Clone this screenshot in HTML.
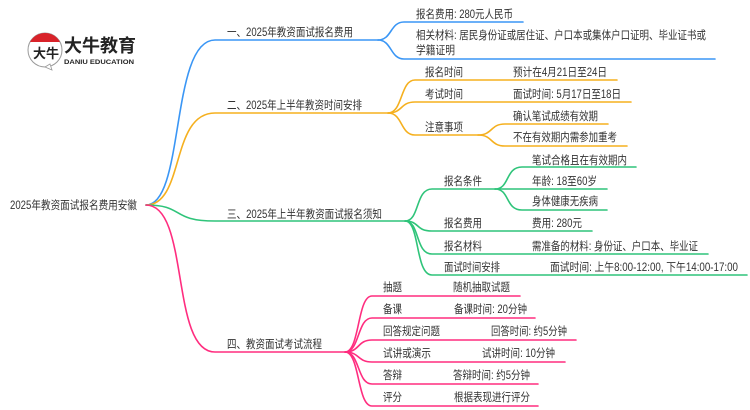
<!DOCTYPE html>
<html><head><meta charset="utf-8"><style>
html,body{margin:0;padding:0;background:#fff;}
svg{display:block;}
text{font-family:"Liberation Sans","Noto Sans CJK SC",sans-serif;font-size:11.5px;fill:#333;}
</style></head><body>
<svg width="750" height="410" viewBox="0 0 750 410" xmlns="http://www.w3.org/2000/svg">
<g fill="none" stroke-width="1.6" stroke-linecap="round">
<g stroke="#3a96f5">
<path d="M146 205 C185 205 170 40 215 40 L378 40"/>
<path d="M378 40 C392 40 390 22 404 22 L523 22"/>
<path d="M378 40 C392 40 390 59 404 59 L715 59"/>
</g>
<g stroke="#f5b01f">
<path d="M146 205 C185 205 170 113 215 113 L388 113"/>
<path d="M388 113 C403 113 400 80 415 80 L617 80"/>
<path d="M388 113 C403 113 400 102 415 102 L631 102"/>
<path d="M388 113 C403 113 400 135 415 135 L478 135"/>
<path d="M478 135 C493 135 490 124 505 124 L608 124"/>
<path d="M478 135 C493 135 490 146 505 146 L627 146"/>
</g>
<g stroke="#2fc47a">
<path d="M146 205 C185 205 170 221 215 221 L405 221"/>
<path d="M405 221 C420 221 415 189 432 189 L495 189"/>
<path d="M495 189 C510 189 505 167 522 167 L636 167"/>
<path d="M495 189 L607 189"/>
<path d="M495 189 C510 189 505 210 522 210 L607 210"/>
<path d="M405 221 C420 221 415 231 432 231 L592 231"/>
<path d="M405 221 C420 221 415 254 432 254 L708 254"/>
<path d="M405 221 C420 221 415 275 432 275 L747 275"/>
</g>
<g stroke="#ff2d7f">
<path d="M146 205 C190 205 170 352 215 352 L345 352"/>
<path d="M345 352 C360 352 357 296 372 296 L520 296"/>
<path d="M345 352 C360 352 357 318 372 318 L535 318"/>
<path d="M345 352 C360 352 357 340 372 340 L576 340"/>
<path d="M345 352 C360 352 357 362 372 362 L565 362"/>
<path d="M345 352 C360 352 357 384 372 384 L538 384"/>
<path d="M345 352 C360 352 357 406 372 406 L538 406"/>
</g>
</g>
<circle cx="45" cy="50" r="17" fill="#fff" stroke="#999" stroke-width="1"/>
<path d="M30 42 A17 17 0 0 1 60 42 Z" fill="#d9232a"/>
<path d="M45 67 L52 70 L50 64 Z" fill="#fff" stroke="#999" stroke-width="0.8"/>
<text x="33" y="58" style="font-size:13px;fill:#222;font-weight:bold">大牛</text>
<text x="64" y="52" style="font-size:18px;font-weight:bold;fill:#222" textLength="72" lengthAdjust="spacingAndGlyphs">大牛教育</text>
<text x="64" y="64" style="font-size:6.5px;fill:#222;font-weight:bold" textLength="70" lengthAdjust="spacingAndGlyphs">DANIU EDUCATION</text>
<g style="font-size:11.5px">
<text x="10" y="209" textLength="127" lengthAdjust="spacingAndGlyphs">2025年教资面试报名费用安徽</text>
<text x="227" y="36" textLength="126" lengthAdjust="spacingAndGlyphs">一、2025年教资面试报名费用</text>
<text x="227" y="109" textLength="135" lengthAdjust="spacingAndGlyphs">二、2025年上半年教资时间安排</text>
<text x="227" y="218" textLength="155" lengthAdjust="spacingAndGlyphs">三、2025年上半年教资面试报名须知</text>
<text x="227" y="348" textLength="95" lengthAdjust="spacingAndGlyphs">四、教资面试考试流程</text>
<text x="416" y="18" textLength="97" lengthAdjust="spacingAndGlyphs">报名费用: 280元人民币</text>
<text x="416" y="39" textLength="290" lengthAdjust="spacingAndGlyphs">相关材料: 居民身份证或居住证、户口本或集体户口证明、毕业证书或</text>
<text x="416" y="54" textLength="39" lengthAdjust="spacingAndGlyphs">学籍证明</text>
<text x="425" y="76" textLength="38" lengthAdjust="spacingAndGlyphs">报名时间</text>
<text x="513" y="76" textLength="94" lengthAdjust="spacingAndGlyphs">预计在4月21日至24日</text>
<text x="425" y="98" textLength="38" lengthAdjust="spacingAndGlyphs">考试时间</text>
<text x="513" y="98" textLength="108" lengthAdjust="spacingAndGlyphs">面试时间: 5月17日至18日</text>
<text x="425" y="131" textLength="38" lengthAdjust="spacingAndGlyphs">注意事项</text>
<text x="513" y="120" textLength="85" lengthAdjust="spacingAndGlyphs">确认笔试成绩有效期</text>
<text x="513" y="141" textLength="104" lengthAdjust="spacingAndGlyphs">不在有效期内需参加重考</text>
<text x="444" y="185" textLength="38" lengthAdjust="spacingAndGlyphs">报名条件</text>
<text x="532" y="164" textLength="95" lengthAdjust="spacingAndGlyphs">笔试合格且在有效期内</text>
<text x="532" y="185" textLength="65" lengthAdjust="spacingAndGlyphs">年龄: 18至60岁</text>
<text x="532" y="205" textLength="66" lengthAdjust="spacingAndGlyphs">身体健康无疾病</text>
<text x="444" y="227" textLength="38" lengthAdjust="spacingAndGlyphs">报名费用</text>
<text x="532" y="227" textLength="50" lengthAdjust="spacingAndGlyphs">费用: 280元</text>
<text x="444" y="250" textLength="38" lengthAdjust="spacingAndGlyphs">报名材料</text>
<text x="532" y="250" textLength="166" lengthAdjust="spacingAndGlyphs">需准备的材料: 身份证、户口本、毕业证</text>
<text x="444" y="271" textLength="56" lengthAdjust="spacingAndGlyphs">面试时间安排</text>
<text x="550" y="271" textLength="188" lengthAdjust="spacingAndGlyphs">面试时间: 上午8:00-12:00, 下午14:00-17:00</text>
<text x="383" y="291" textLength="19" lengthAdjust="spacingAndGlyphs">抽题</text>
<text x="453" y="291" textLength="57" lengthAdjust="spacingAndGlyphs">随机抽取试题</text>
<text x="383" y="313" textLength="19" lengthAdjust="spacingAndGlyphs">备课</text>
<text x="454" y="313" textLength="73" lengthAdjust="spacingAndGlyphs">备课时间: 20分钟</text>
<text x="383" y="335" textLength="57" lengthAdjust="spacingAndGlyphs">回答规定问题</text>
<text x="491" y="335" textLength="76" lengthAdjust="spacingAndGlyphs">回答时间: 约5分钟</text>
<text x="383" y="357" textLength="48" lengthAdjust="spacingAndGlyphs">试讲或演示</text>
<text x="482" y="357" textLength="73" lengthAdjust="spacingAndGlyphs">试讲时间: 10分钟</text>
<text x="383" y="379" textLength="19" lengthAdjust="spacingAndGlyphs">答辩</text>
<text x="453" y="379" textLength="77" lengthAdjust="spacingAndGlyphs">答辩时间: 约5分钟</text>
<text x="383" y="401" textLength="19" lengthAdjust="spacingAndGlyphs">评分</text>
<text x="454" y="401" textLength="76" lengthAdjust="spacingAndGlyphs">根据表现进行评分</text>
</g>
</svg>
</body></html>
